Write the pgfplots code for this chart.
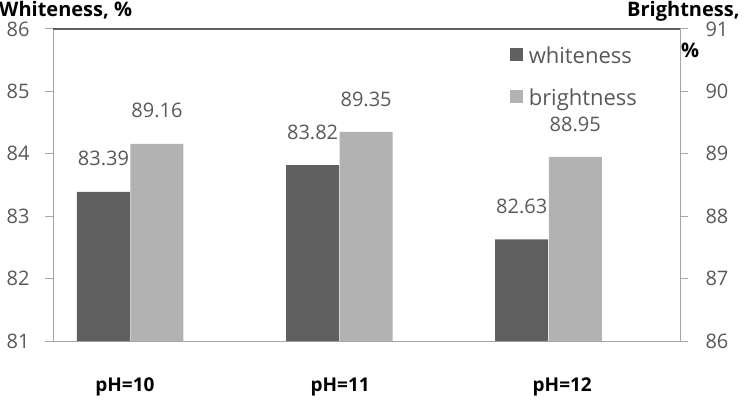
\documentclass[border=0pt]{standalone}
\usepackage{pgfplots}
\pgfplotsset{compat=1.18}
\usepackage{fontspec}
\setmainfont{Open Sans}
\definecolor{dark}{HTML}{606060}
\definecolor{light}{HTML}{B2B2B2}
\definecolor{axisgray}{HTML}{A6A6A6}
\definecolor{txt}{HTML}{595959}
\begin{document}
\begin{tikzpicture}[x=1pt,y=1pt]
\path[use as bounding box] (0,0) rectangle (751,404);
\pgfplotsset{
 common/.style={
  at={(53pt,63pt)}, anchor=south west,
  scale only axis, width=627pt, height=312pt,
  xmin=-0.368, xmax=2.63,
  ybar, bar width=53pt,
  axis line style={axisgray, line width=1pt},
  tick style={axisgray, line width=1pt},
  major tick length=8pt,
  tick align=outside,
  font=\fontsize{20}{24}\selectfont,
  yticklabel style={text=txt, font=\fontsize{20}{24}\selectfont},
  /pgf/number format/assume math mode=true,
  nodes near coords={\pgfmathprintnumber[fixed,fixed zerofill,precision=2]{\pgfplotspointmeta}},
  every node near coord/.append style={anchor=center, yshift=33pt, text=txt, font=\fontsize{20}{24}\selectfont},
 }
}
\begin{axis}[common, ymin=81, ymax=86, ytick={81,82,83,84,85,86},
  axis y line*=left, axis x line*=bottom,
  xtick={-0.024,1.005,2.067}, xticklabels={pH=10,pH=11,pH=12},
  xticklabel style={font=\bfseries\fontsize{19}{22}\selectfont, text=black, yshift=-25pt},
  xtick style={draw=none},
  yticklabel style={xshift=-12pt}]
\addplot[fill=dark, draw=none, bar shift=-26.5pt] coordinates {(0,83.39) (1,83.82) (2,82.63)};
\end{axis}
\begin{axis}[common, ymin=86, ymax=91, ytick={86,87,88,89,90,91},
  axis y line*=right, axis x line*=top, xtick=\empty,
  yticklabel style={xshift=14pt},
  legend image code/.code={\fill[#1] (0pt,-5pt) rectangle (13pt,8pt);},
  legend style={at={(0.725,0.955)}, anchor=north west, draw=none, fill=none,
    font=\fontsize{22}{24}\selectfont, text=txt, row sep=19pt, column sep=4pt, inner sep=2pt},
  legend cell align=left]
\addlegendimage{fill=dark, draw=none}
\addplot[fill=light, draw=none, bar shift=27pt] coordinates {(0,89.16) (1,89.35) (2,88.95)};
\draw[dark, line width=1.2pt] (rel axis cs:0,1) -- (rel axis cs:1,1);
\legend{whiteness, brightness}
\end{axis}
\node[anchor=north west, inner sep=0pt, font=\bfseries\fontsize{20}{24}\selectfont] at (-1,403) {Whiteness, \%};
\node[anchor=north west, inner sep=0pt, font=\bfseries\fontsize{20}{24}\selectfont] at (627,403) {Brightness,};
\node[anchor=center, inner sep=0pt, font=\bfseries\fontsize{20}{24}\selectfont] at (690,354) {\%};
\end{tikzpicture}
\end{document}
